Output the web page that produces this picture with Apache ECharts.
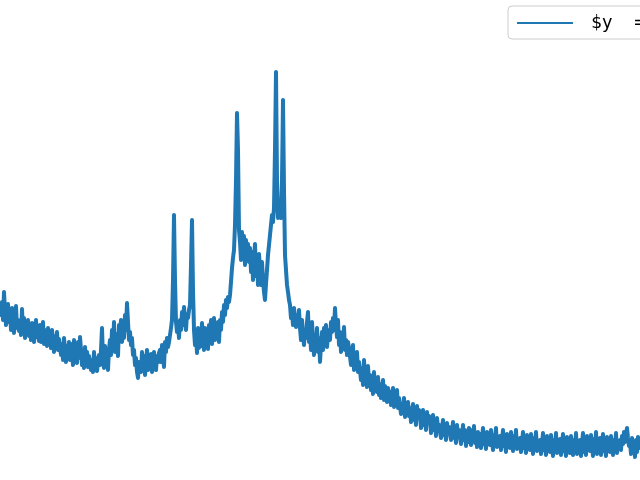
<!DOCTYPE html>
<html>
<head>
<meta charset="utf-8">
<script src="https://cdn.jsdelivr.net/npm/echarts@6/dist/echarts.min.js"></script>
<style>
html,body{margin:0;padding:0;background:#fff;}
#chart{width:640px;height:480px;}
</style>
</head>
<body>
<div id="chart"></div>
<script>
const seriesName = "$y  = f(x)$";
const signal = [
  172,165,178,160,188,170,155,166,176,158,
  168,150,172,158,147,165,174,152,160,149,
  158,145,171,150,162,142,155,148,160,144,
  152,140,157,146,138,150,160,143,149,139,
  155,138,147,158,136,150,142,134,152,140,
  146,132,150,138,128,144,135,148,130,141,
  140,125,136,120,142,130,118,134,124,138,
  120,136,128,115,140,124,132,117,138,122,
  143,130,115,126,112,133,120,128,113,124,
  126,110,120,108,128,114,122,109,118,125,
  115,130,152,120,112,134,118,126,110,131,
  140,125,150,132,158,128,146,136,124,155,
  145,160,138,155,142,165,150,177,158,140,
  148,135,142,125,130,115,122,108,102,118,
  120,108,128,112,124,105,117,130,110,122,
  112,126,108,120,128,114,110,124,118,127,
  130,118,135,124,113,138,128,142,133,138,
  145,152,160,200,265,200,158,148,155,142,
  160,150,168,155,173,158,150,166,162,170,
  175,215,260,190,150,135,145,127,152,132,
  150,134,157,140,130,152,138,148,131,155,
  142,160,136,150,162,140,155,145,158,138,
  160,150,168,158,175,165,180,172,183,178,
  185,198,212,222,230,255,300,367,330,250,
  238,220,248,226,244,215,240,222,236,218,
  232,208,228,200,222,236,204,218,195,226,
  212,195,218,200,188,180,196,210,225,235,
  245,255,265,258,272,330,408,300,262,270,
  268,262,300,380,290,225,210,195,188,180,
  175,162,168,155,172,160,153,165,158,170,
  152,140,160,146,135,150,142,158,168,138,
  150,130,158,140,125,145,135,152,128,142,
  118,135,148,130,152,140,155,133,145,150,
  140,158,148,162,150,172,155,143,160,135,
  148,128,145,135,153,130,140,125,138,132,
  130,115,125,135,110,122,112,128,108,118,
  116,100,112,95,120,104,108,93,114,98,
  105,90,98,86,108,92,100,88,103,85,
  96,82,90,100,80,94,85,78,92,84,
  88,75,84,92,73,86,78,90,72,82,
  80,66,76,70,82,63,74,68,78,64,
  72,58,68,76,60,65,55,74,62,70,
  66,52,62,70,55,60,50,68,58,64,
  60,47,56,65,50,58,44,62,52,55,
  55,42,52,60,45,50,40,57,47,53,
  52,40,48,58,42,46,37,55,44,50,
  48,36,44,55,40,50,34,46,38,52,
  42,35,50,40,54,37,45,33,48,41,
  46,32,42,52,36,40,31,48,38,44,
  35,50,40,30,45,38,52,33,42,36,
  44,30,40,50,34,38,28,46,36,42,
  32,48,38,29,44,36,50,31,40,35,
  42,28,38,48,32,36,27,45,34,40,
  30,46,36,26,42,33,48,29,38,34,
  40,26,36,47,30,35,25,44,32,38,
  28,45,34,24,40,31,47,27,37,33,
  41,25,35,46,29,34,24,43,31,39,
  27,44,33,25,40,30,47,26,36,32,
  40,24,36,47,28,35,25,44,31,38,
  29,45,34,24,41,30,48,26,37,33,
  42,25,35,46,29,36,24,43,31,39,
  28,44,33,25,40,31,47,27,38,34,
  40,30,44,36,48,38,46,52,42,34,
  38,26,42,30,36,23,40,28,43,32,
  35
];
const sampleIndex = signal.map((_, i) => String(i));

const chart = echarts.init(document.getElementById('chart'), null, {renderer: 'canvas'});
chart.setOption({
  animation: false,
  backgroundColor: '#ffffff',
  grid: {left: 0, right: 0, top: 0, bottom: 0, containLabel: false},
  xAxis: {
    type: 'category',
    data: sampleIndex,
    boundaryGap: false,
    show: false
  },
  yAxis: {
    type: 'value',
    min: 0,
    max: 480,
    show: false
  },
  legend: {
    show: true,
    left: 508,
    top: 6,
    orient: 'horizontal',
    data: [{name: seriesName, icon: 'rect'}],
    itemWidth: 56,
    itemHeight: 2,
    padding: [7, 10, 6, 9],
    borderColor: '#cccccc',
    borderWidth: 1,
    borderRadius: 4,
    backgroundColor: 'rgba(255,255,255,0.8)',
    textStyle: {
      fontFamily: 'DejaVu Sans Mono',
      fontSize: 18,
      color: '#000000',
      lineHeight: 20,
      padding: [0, 0, 0, 13]
    }
  },
  series: [{
    name: seriesName,
    type: 'line',
    data: signal,
    showSymbol: false,
    symbol: 'none',
    itemStyle: {color: '#1f77b4'},
    lineStyle: {color: '#1f77b4', width: 4, join: 'round'}
  }]
});
</script>
</body>
</html>
